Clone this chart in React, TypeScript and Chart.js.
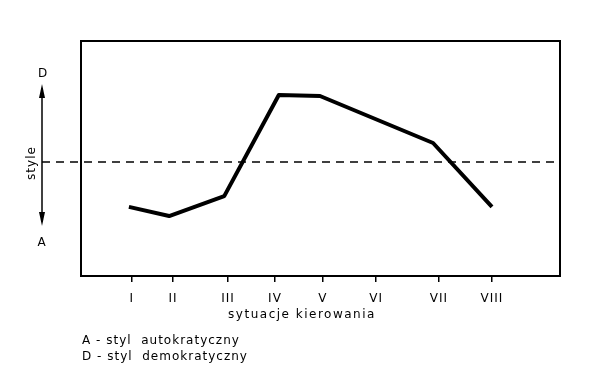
import React, { useEffect, useRef } from "react";
import { Chart, registerables } from "chart.js";

Chart.register(...registerables);

// Category (situation) labels and their positions along the situation axis (0–100 units)
const situationLabels = ["I", "II", "III", "IV", "V", "VI", "VII", "VIII"];
const situationPositions = [10.6, 19.2, 30.7, 40.5, 50.5, 61.6, 74.7, 85.8];

// Style curve: position along situation axis and style value (0 = boundary, + democratic, - autocratic)
const curveX = [10.0, 18.4, 29.9, 41.3, 49.9, 73.5, 85.8];
const curveY = [-1.91, -2.3, -1.45, 2.85, 2.81, 0.81, -1.91];

const boundaryValue = 0;
const axisTitle = "sytuacje kierowania";
const styleTitle = "style";
const topLetter = "D";
const bottomLetter = "A";
const legendLines = ["A - styl  autokratyczny", "D - styl  demokratyczny"];

const FONT = "12px 'DejaVu Sans', sans-serif";

export default function App() {
  const ref = useRef<HTMLCanvasElement>(null);

  useEffect(() => {
    if (!ref.current) return;

    const decor = {
      id: "decor",
      beforeDraw(chart: any) {
        (chart.ctx as any).letterSpacing = "1px";
      },
      afterDraw(chart: any) {
        const ctx = chart.ctx as CanvasRenderingContext2D;
        const area = chart.chartArea;
        const yScale = chart.scales.y;
        const yb = yScale.getPixelForValue(boundaryValue);
        ctx.save();
        // frame
        ctx.strokeStyle = "#000";
        ctx.lineWidth = 2;
        ctx.strokeRect(area.left, area.top, area.right - area.left, area.bottom - area.top);
        // dashed boundary line
        ctx.lineWidth = 1.5;
        ctx.setLineDash([8, 6]);
        ctx.beginPath();
        ctx.moveTo(42, yb);
        ctx.lineTo(area.right, yb);
        ctx.stroke();
        ctx.setLineDash([]);
        // double arrow
        const ax = 42;
        const top = 84;
        const bot = 226;
        ctx.beginPath();
        ctx.moveTo(ax, top + 4);
        ctx.lineTo(ax, bot - 4);
        ctx.stroke();
        ctx.fillStyle = "#000";
        ctx.beginPath();
        ctx.moveTo(ax, top);
        ctx.lineTo(ax - 3, top + 14);
        ctx.lineTo(ax + 3, top + 14);
        ctx.closePath();
        ctx.fill();
        ctx.beginPath();
        ctx.moveTo(ax, bot);
        ctx.lineTo(ax - 3, bot - 14);
        ctx.lineTo(ax + 3, bot - 14);
        ctx.closePath();
        ctx.fill();
        // texts
        ctx.font = FONT;
        (ctx as any).letterSpacing = "1px";
        ctx.textAlign = "center";
        ctx.textBaseline = "middle";
        ctx.fillText(topLetter, 43, 74);
        ctx.fillText(bottomLetter, 42, 243);
        (ctx as any).letterSpacing = "1.5px";
        ctx.fillText(axisTitle, 302, 315);
        (ctx as any).letterSpacing = "1px";
        ctx.save();
        ctx.translate(32, 163);
        ctx.rotate(-Math.PI / 2);
        ctx.fillText(styleTitle, 0, 0);
        ctx.restore();
        ctx.textAlign = "left";
        legendLines.forEach((t, i) => ctx.fillText(t, 82, 341 + i * 16));
        ctx.restore();
      },
    };

    const chart = new Chart(ref.current, {
      type: "line",
      data: {
        datasets: [
          {
            data: curveX.map((x, i) => ({ x, y: curveY[i] })),
            borderColor: "#000",
            borderWidth: 4,
            pointRadius: 0,
            tension: 0,
            fill: false,
            borderJoinStyle: "round",
            borderCapStyle: "butt",
          },
        ],
      },
      options: {
        responsive: false,
        animation: false,
        layout: { padding: { left: 81, right: 55, top: 41, bottom: 0 } },
        plugins: { legend: { display: false }, tooltip: { enabled: false } },
        scales: {
          x: {
            type: "linear",
            min: 0,
            max: 100,
            afterBuildTicks: (axis: any) => {
              axis.ticks = situationPositions.map((v) => ({ value: v }));
            },
            afterFit: (axis: any) => {
              axis.height = 101;
            },
            ticks: {
              autoSkip: false,
              maxRotation: 0,
              padding: 10,
              color: "#000",
              font: { family: "'DejaVu Sans', sans-serif", size: 12 },
              callback: (_v: any, i: number) => situationLabels[i],
            },
            grid: {
              drawOnChartArea: false,
              tickLength: 6,
              color: "#000",
              lineWidth: 1.5,
            },
            border: { display: false },
          },
          y: {
            display: false,
            min: -4.85,
            max: 5.15,
          },
        },
      },
      plugins: [decor],
    } as any);

    return () => chart.destroy();
  }, []);

  return (
    <div style={{ position: "fixed", left: 0, top: 0, width: 615, height: 377, background: "#fff" }}>
      <canvas ref={ref} width={615} height={377} style={{ display: "block" }} />
    </div>
  );
}
